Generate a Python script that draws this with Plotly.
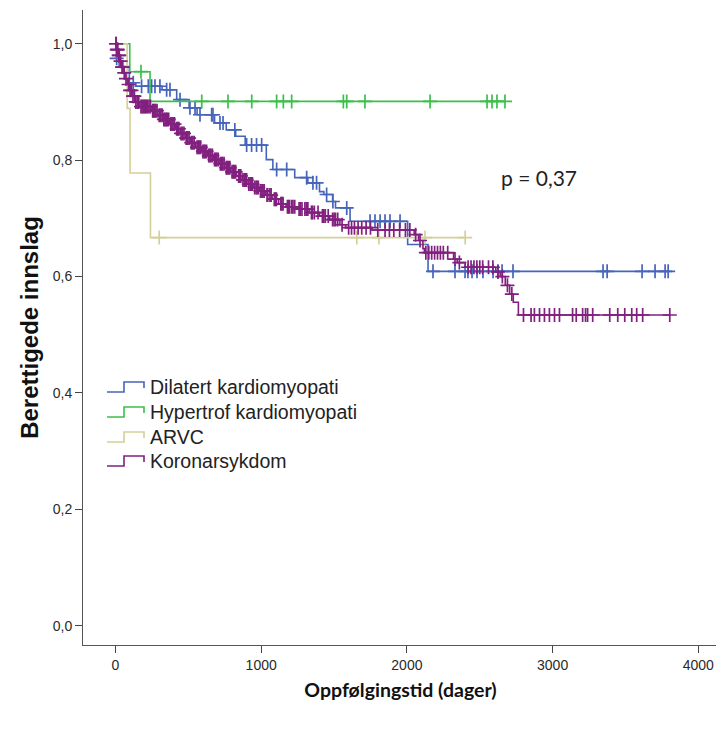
import plotly.graph_objects as go

# ---------------- data ----------------
# Dilatert kardiomyopati
dcm_event_days = [6, 25, 95, 140, 320, 420, 505, 560, 680, 760, 825, 890, 1035, 1080, 1230, 1320, 1400, 1430, 1490, 1510, 1610, 2005, 2145]
dcm_event_surv = [0.975, 0.961, 0.933, 0.927, 0.921, 0.904, 0.890, 0.878, 0.864, 0.852, 0.841, 0.826, 0.801, 0.784, 0.770, 0.761, 0.746, 0.741, 0.729, 0.718, 0.695, 0.655, 0.609]
dcm_censored = [8, 122, 179, 225, 248, 271, 305, 351, 374, 443, 511, 546, 580, 660, 669, 717, 738, 819, 900, 934, 968, 1003, 1106, 1175, 1312, 1355, 1380, 1449, 1492, 1587, 1747, 1781, 1816, 1850, 1884, 1953, 2179, 2330, 2399, 2419, 2447, 2481, 2522, 2591, 2625, 2653, 2728, 3346, 3374, 3614, 3703, 3772, 3793]

# Hypertrof kardiomyopati
hcm_event_days = [98, 237]
hcm_event_surv = [0.952, 0.901]
hcm_censored = [175, 592, 772, 935, 1106, 1152, 1209, 1564, 1587, 1712, 2159, 2550, 2584, 2618, 2673]

# ARVC
arvc_event_days = [80, 100, 240]
arvc_event_surv = [0.889, 0.778, 0.667]
arvc_censored = [300, 1656, 1808, 2124, 2400]

# Koronarsykdom
cad_event_days = [8, 18, 28, 40, 52, 65, 80, 95, 115, 135, 165, 250, 290, 330, 370, 410, 445, 480, 515, 550,
                  590, 630, 670, 710, 750, 790, 830, 870, 910, 950, 990, 1030, 1075, 1120, 1170, 1250, 1330,
                  1400, 1470, 1540, 1580, 1760, 2050, 2080, 2110, 2120, 2320, 2345, 2400, 2610, 2640, 2675,
                  2705, 2730, 2765]
cad_event_surv = [0.99, 0.98, 0.97, 0.96, 0.95, 0.94, 0.93, 0.92, 0.91, 0.90, 0.892, 0.885, 0.877, 0.870, 0.862,
                  0.854, 0.846, 0.838, 0.830, 0.822, 0.815, 0.808, 0.801, 0.794, 0.787, 0.780, 0.773, 0.766,
                  0.759, 0.753, 0.747, 0.740, 0.733, 0.725, 0.720, 0.716, 0.710, 0.704, 0.698, 0.689, 0.684,
                  0.680, 0.672, 0.662, 0.648, 0.641, 0.630, 0.624, 0.616, 0.608, 0.600, 0.585, 0.570, 0.556,
                  0.534]
cad_censored = [3, 5, 9, 12, 16, 22, 26, 35, 45, 50, 60, 72, 90, 100, 110, 120, 130, 140, 150, 160, 175, 182,
                190, 198, 205, 212, 220, 230, 240, 255, 260, 268, 275, 285, 300, 310, 320, 332, 340, 348, 355,
                365, 380, 388, 395, 405, 420, 428, 435, 450, 460, 470, 485, 495, 505, 520, 530, 540, 560, 568,
                575, 585, 600, 608, 615, 625, 640, 648, 655, 665, 680, 688, 695, 705, 720, 728, 735, 745, 760,
                768, 775, 785, 800, 808, 815, 825, 845, 852, 860, 875, 885, 892, 900, 915, 925, 932, 940, 955,
                965, 972, 980, 995, 1005, 1012, 1020, 1040, 1045, 1060, 1068, 1090, 1098, 1105, 1135, 1142,
                1150, 1180, 1188, 1195, 1210, 1218, 1230, 1260, 1268, 1280, 1300, 1310, 1320, 1345, 1352,
                1365, 1390, 1420, 1430, 1440, 1460, 1490, 1500, 1510, 1525, 1555, 1600, 1620, 1640, 1665,
                1690, 1720, 1750, 1800, 1850, 1880, 1910, 1950, 1990, 2020, 2060, 2090, 2130, 2150, 2170,
                2190, 2210, 2230, 2250, 2280, 2330, 2360, 2420, 2440, 2460, 2480, 2500, 2520, 2560, 2590,
                2625, 2655, 2690, 2720,
                2800, 2852, 2875, 2910, 2944, 2978, 3013, 3047, 3137, 3162, 3206, 3226, 3240, 3275, 3392, 3447,
                3495, 3543, 3577, 3618, 3804]

series_names = ["Dilatert kardiomyopati", "Hypertrof kardiomyopati", "ARVC", "Koronarsykdom"]
series_colors = ["#4664ba", "#3cbf4a", "#d4cf9a", "#82207f"]

x_tick_values = [0, 1000, 2000, 3000, 4000]
y_tick_values = [0.0, 0.2, 0.4, 0.6, 0.8, 1.0]
p_text = "p = 0,37"


def surv_at(t, days, surv):
    s = 1.0
    for d, v in zip(days, surv):
        if d <= t:
            s = v
    return s


# page offset (browser body margin) compensation
OFF = 8
W, H = 724 - OFF, 731 - OFF
ML, MR, MT, MB = 83 - OFF, 6, 10 - OFF, 86
PW = W - ML - MR
PH = H - MT - MB


def px_to_paper(px, py):
    return (px - OFF - ML) / PW, (H - MB - (py - OFF)) / PH


fig = go.Figure()
groups = [
    (dcm_event_days, dcm_event_surv, dcm_censored),
    (hcm_event_days, hcm_event_surv, hcm_censored),
    (arvc_event_days, arvc_event_surv, arvc_censored),
    (cad_event_days, cad_event_surv, cad_censored),
]
for name, color, (days, surv, cens) in zip(series_names, series_colors, groups):
    end = max(max(cens), max(days))
    xs = [0] + list(days) + [end]
    ys = [1.0] + list(surv) + [surv[-1]]
    fig.add_trace(go.Scatter(x=xs, y=ys, mode="lines", line=dict(color=color, width=1.6, shape="hv"),
                             name=name, showlegend=False, hoverinfo="skip"))
    fig.add_trace(go.Scatter(x=cens, y=[surv_at(t, days, surv) for t in cens], mode="markers",
                             marker=dict(symbol="cross-thin", size=10, line=dict(color=color, width=1.7)),
                             name=name, showlegend=False, hoverinfo="skip"))

# custom legend with step glyphs
legend_rows_px = [387, 412, 437, 461]
for name, color, yc in zip(series_names, series_colors, legend_rows_px):
    pts = [(107, yc + 5), (124, yc + 5), (124, yc - 5), (144, yc - 5), (144, yc + 1)]
    pp = [px_to_paper(a, b) for a, b in pts]
    path = "M " + " L ".join(f"{a:.5f},{b:.5f}" for a, b in pp)
    fig.add_shape(type="path", path=path, xref="paper", yref="paper",
                  line=dict(color=color, width=1.6))
    tx, ty = px_to_paper(148, yc)
    fig.add_annotation(x=tx, y=ty, xref="paper", yref="paper", text=name, showarrow=False,
                       xanchor="left", yanchor="middle",
                       font=dict(family="Liberation Sans", size=19.5, color="#222"))

fig.add_annotation(x=2907, y=0.77, text=p_text, showarrow=False, xref="x", yref="y",
                   font=dict(family="Lato", size=21, color="#222"))

fig.update_layout(
    width=W, height=H,
    margin=dict(l=ML, r=MR, t=MT, b=MB, autoexpand=False),
    paper_bgcolor="white", plot_bgcolor="white",
    separators=",.",
    showlegend=False,
    font=dict(family="Liberation Sans", color="#222"),
)
fig.update_xaxes(range=[-223, 4135], tickvals=x_tick_values, tickformat="d", ticks="outside", ticklen=7,
                 tickcolor="#444", showline=True, linecolor="#555", linewidth=1, showgrid=False,
                 zeroline=False, tickfont=dict(family="Liberation Sans", size=14, color="#2a2a2a"),
                 title=dict(text="Oppfølgingstid (dager)", standoff=11,
                            font=dict(family="Lato", size=19.5, color="#111", weight="bold")))
fig.update_yaxes(range=[-0.033, 1.058], tickvals=y_tick_values, tickformat=".1f", ticks="outside", ticklen=7,
                 tickcolor="#444", showline=True, linecolor="#555", linewidth=1, showgrid=False,
                 zeroline=False, tickfont=dict(family="Liberation Sans", size=14, color="#2a2a2a"),
                 title=dict(text="Berettigede innslag", standoff=7,
                            font=dict(family="Liberation Sans", size=24, color="#111", weight="bold")))

fig.write_html("out.html")
